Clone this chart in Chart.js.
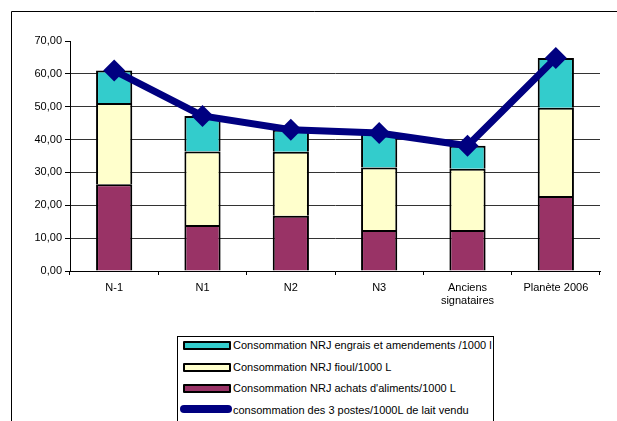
<!DOCTYPE html>
<html><head><meta charset="utf-8">
<script src="https://cdn.jsdelivr.net/npm/chart.js@4/dist/chart.umd.min.js"></script>
<style>
html,body{margin:0;padding:0;background:#fff;}
#wrap{position:relative;width:617px;height:421px;overflow:hidden;}
#legend{position:absolute;left:177px;top:336px;width:315px;height:100px;border:1px solid #000;background:#fff;font-family:"Liberation Sans",Arial,sans-serif;font-size:11px;color:#000;}
.li{position:absolute;left:0;height:16px;line-height:16px;white-space:nowrap;}
.sw{position:absolute;left:5px;top:4px;width:44px;height:5px;border:2px solid #000;border-radius:1px;}
.ln{position:absolute;left:2px;top:3px;width:52px;height:8px;border-radius:4px;background:#000080;}
.tx{position:absolute;left:55px;top:0;}
</style></head>
<body><div id="wrap"><canvas id="c" width="617" height="421"></canvas><div id="legend"></div></div>
<script>
const categories = ["N-1","N1","N2","N3",["Anciens","signataires"],"Planète 2006"];
const achatsAliments = [26.4, 14.0, 16.8, 12.5, 12.5, 22.8];
const fioul = [24.7, 22.4, 19.5, 19.0, 18.6, 26.9];
const engrais = [9.9, 10.8, 6.7, 10.5, 7.0, 15.1];
const total3Postes = [61.0, 47.2, 43.0, 42.0, 38.1, 64.8];
const yTicks = [0,10,20,30,40,50,60,70];

const labels = {
  engrais: "Consommation NRJ engrais et amendements /1000 l",
  fioul: "Consommation NRJ fioul/1000 L",
  achats: "Consommation NRJ achats d'aliments/1000 L",
  total: "consommation des 3 postes/1000L de lait vendu"
};
const colors = {achats:"#993366", fioul:"#FFFFCC", engrais:"#33CCCC", total:"#000080"};

const framePlugin = {
  id:'frame',
  beforeDraw(chart){
    const ctx = chart.ctx;
    ctx.save();
    ctx.fillStyle='#fff';ctx.fillRect(0,0,chart.width,chart.height);
    ctx.strokeStyle='#000';ctx.lineWidth=1;
    ctx.beginPath();ctx.moveTo(11.5,421);ctx.lineTo(11.5,11.5);ctx.lineTo(617,11.5);ctx.stroke();
    ctx.restore();
  }
};

Chart.defaults.font.family = '"Liberation Sans", Arial, sans-serif';
Chart.defaults.font.size = 11;
Chart.defaults.color = '#000';

new Chart(document.getElementById('c'), {
  data: {
    labels: categories,
    datasets: [
      {type:'line', label:labels.total, data:total3Postes, borderColor:colors.total, backgroundColor:colors.total,
       borderWidth:7, pointStyle:'rectRot', pointRadius:11, pointHoverRadius:11, pointBorderWidth:0, order:0, tension:0},
      {type:'bar', label:labels.achats, data:achatsAliments, backgroundColor:colors.achats, borderColor:'#000', borderWidth:2, order:1, stack:'s'},
      {type:'bar', label:labels.fioul, data:fioul, backgroundColor:colors.fioul, borderColor:'#000', borderWidth:2, order:1, stack:'s'},
      {type:'bar', label:labels.engrais, data:engrais, backgroundColor:colors.engrais, borderColor:'#000', borderWidth:2, order:1, stack:'s'}
    ]
  },
  options: {
    responsive:false, animation:false,
    layout:{padding:{left:0,right:17,top:41,bottom:0}},
    datasets:{bar:{barPercentage:0.41, categoryPercentage:1}},
    plugins:{legend:{display:false}, tooltip:{enabled:false}},
    scales:{
      x:{stacked:true, offset:true,
         grid:{offset:true, drawOnChartArea:false, color:'#000', tickLength:4, tickColor:'#000'},
         border:{color:'#000', width:1},
         ticks:{padding:6, maxRotation:0, autoSkip:false, font:{size:11}},
         afterFit(s){ s.height = 150; }
      },
      y:{stacked:true, min:0, max:70,
         afterBuildTicks(s){ s.ticks = yTicks.map(v=>({value:v})); },
         grid:{color:(c)=> c.tick && c.tick.value===70 ? 'rgba(0,0,0,0)' : '#333', tickColor:'#000', tickLength:5, lineWidth:1},
         border:{color:'#000', width:1},
         ticks:{padding:3, callback:(v)=>v.toFixed(2).replace('.',','), font:{size:11}},
         afterFit(s){ s.width = 70; }
      }
    }
  },
  plugins:[framePlugin]
});

const lg = document.getElementById('legend');
const items = [
  {k:'engrais', t:'sw'},{k:'fioul', t:'sw'},{k:'achats', t:'sw'},{k:'total', t:'ln'}
];
items.forEach((it,i)=>{
  const d = document.createElement('div'); d.className='li'; d.style.top=(0+i*21.5)+'px';
  const s = document.createElement('div'); s.className=it.t;
  if(it.t==='sw') s.style.background = colors[it.k];
  const tx = document.createElement('span'); tx.className='tx'; tx.textContent = labels[it.k];
  d.appendChild(s); d.appendChild(tx); lg.appendChild(d);
});
</script></body></html>
